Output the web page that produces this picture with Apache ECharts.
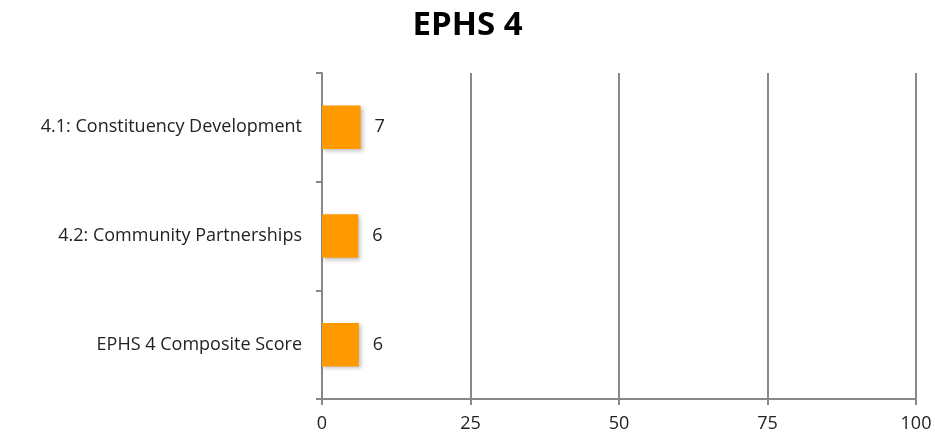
<!DOCTYPE html>
<html>
<head>
<meta charset="utf-8">
<script src="https://cdn.jsdelivr.net/npm/echarts@6/dist/echarts.min.js"></script>
<style>
  html, body { margin: 0; padding: 0; background: #fff; }
  #main { width: 935px; height: 439px; }
</style>
</head>
<body>
<div id="main"></div>
<script>
var categories = ['EPHS 4 Composite Score', '4.2: Community Partnerships', '4.1: Constituency Development'];
var scores = [6.2, 6.1, 6.5];
var xTicks = [0, 25, 50, 75, 100];

var myChart = echarts.init(document.getElementById('main'));
var fontFam = '"Open Sans", "Liberation Sans", sans-serif';
var option = {
  backgroundColor: '#fff',
  animation: false,
  title: {
    text: 'EPHS 4',
    left: 'center',
    top: 4,
    textStyle: { fontFamily: fontFam, fontWeight: 'bold', fontSize: 33, color: '#000' }
  },
  grid: { left: 322, right: 19, top: 73, bottom: 40 },
  xAxis: {
    type: 'value',
    min: xTicks[0],
    max: xTicks[xTicks.length - 1],
    interval: 25,
    axisLine: { show: true, lineStyle: { color: '#888', width: 2 } },
    axisTick: { show: true, length: 6, lineStyle: { color: '#888', width: 2 } },
    axisLabel: { fontFamily: fontFam, fontSize: 18, color: '#222', margin: 16 },
    splitLine: { show: true, lineStyle: { color: '#888', width: 2 } }
  },
  yAxis: {
    type: 'category',
    data: categories,
    axisLine: { show: true, lineStyle: { color: '#888', width: 2 } },
    axisTick: { show: true, length: 6, lineStyle: { color: '#888', width: 2 } },
    axisLabel: { fontFamily: fontFam, fontSize: 18, color: '#222', margin: 20 }
  },
  series: [{
    type: 'bar',
    data: scores,
    barWidth: '40%',
    itemStyle: {
      color: '#FF9900',
      shadowBlur: 4,
      shadowOffsetX: 2,
      shadowOffsetY: 2,
      shadowColor: 'rgba(0,0,0,0.25)'
    },
    label: {
      show: true,
      position: 'right',
      distance: 14,
      fontFamily: fontFam,
      fontSize: 18,
      color: '#222',
      formatter: function (p) { return Math.round(p.value); }
    }
  }]
};
myChart.setOption(option);
</script>
</body>
</html>
